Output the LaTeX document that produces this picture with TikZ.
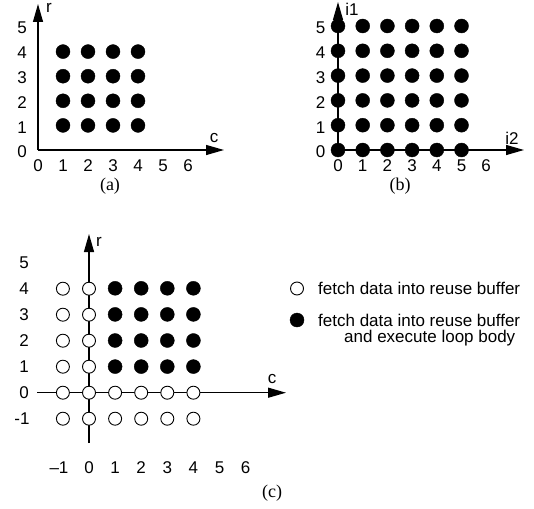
\documentclass[tikz,border=0pt]{standalone}
\usepackage{fontspec}
\setmainfont{Liberation Serif}
\newfontfamily\helv{Liberation Sans}
\usetikzlibrary{arrows.meta}
\tikzset{
  lbl/.style={font=\helv\fontsize{17}{19}\selectfont, inner sep=0pt},
  captxt/.style={font=\fontsize{18}{20}\selectfont, inner sep=0pt},
  fdot/.style={circle, fill=black, draw=black, minimum size=14pt, inner sep=0pt},
  odot/.style={circle, fill=white, draw=black, line width=0.9pt, minimum size=13pt, inner sep=0pt},
  axis/.style={line width=1.3pt, -{Triangle[length=18pt,width=10pt]}},
}
\begin{document}
\begin{tikzpicture}[x=1pt,y=-1pt]
\useasboundingbox (0,0) rectangle (534,508);
% ---------- panel (a)
\coordinate (aO) at (38,150);
\coordinate (aY) at (38,4);
\coordinate (aX) at (224,150);
\draw[axis] (aO) -- (aY);
\draw[axis] (aO) -- (aX);
\node[lbl] (ar) at (49,8) {r};
\node[lbl] (ac) at (214,138) {c};
\foreach \i in {0,...,6} \node[lbl] (ax\i) at (38+25*\i,166) {\i};
\foreach \j in {0,...,5} \node[lbl] (ay\j) at (22,152-24.8*\j) {\j};
\foreach \i in {1,...,4} \foreach \j in {1,...,4}
  \node[fdot] (a-\i-\j) at (38+25*\i,150-24.6*\j) {};
\node[captxt] (capa) at (110,186) {(a)};
% ---------- panel (b)
\coordinate (bO) at (338,150);
\coordinate (bY) at (338,2);
\coordinate (bX) at (524,150);
\draw[axis] (bO) -- (bY);
\draw[axis] (bO) -- (bX);
\node[lbl] (bi1) at (352,9) {i1};
\node[lbl] (bi2) at (512,138) {i2};
\foreach \i in {0,...,6} \node[lbl] (bx\i) at (338+24.7*\i,166) {\i};
\foreach \j in {0,...,5} \node[lbl] (by\j) at (320.5,152-24.8*\j) {\j};
\foreach \i in {0,...,5} \foreach \j in {0,...,5}
  \node[fdot] (b-\i-\j) at (338+24.7*\i,150-24.8*\j) {};
\node[captxt] (capb) at (400,186) {(b)};
% ---------- panel (c)
\coordinate (cO) at (89,392.7);
\coordinate (cY) at (89,234);
\coordinate (cYb) at (89,443);
\coordinate (cXl) at (37,392.7);
\coordinate (cX) at (286,392.7);
\draw[axis] (cYb) -- (cY);
\draw[axis] (cXl) -- (cX);
\node[lbl] (cr) at (99,242) {r};
\node[lbl] (cc) at (272,379) {c};
\node[lbl] (cxm) at (59,468) {\textendash1};
\foreach \i in {0,...,6} \node[lbl] (cx\i) at (89+26.1*\i,468) {\i};
\node[lbl] (cym) at (22,419) {-1};
\foreach \j in {0,...,5} \node[lbl] (cy\j) at (24,393-26*\j) {\j};
\foreach \i in {-1,...,4} \foreach \j in {-1,0} \node[odot] (c-\i-\j) at (89+26.1*\i,392.7-26*\j) {};
\foreach \i in {-1,0} \foreach \j in {1,...,4} \node[odot] (c-\i-\j) at (89+26.1*\i,392.7-26*\j) {};
\foreach \i in {1,...,4} \foreach \j in {1,...,4} \node[fdot] (c-\i-\j) at (89+26.1*\i,392.7-26.1*\j) {};
\node[captxt] (capc) at (272,493) {(c)};
% ---------- legend
\node[odot] (lo) at (297,288.5) {};
\node[lbl, anchor=west] (lt1) at (318,288.5) {fetch data into reuse buffer};
\node[fdot] (lf) at (297,320) {};
\node[lbl, anchor=west] (lt2) at (318,320) {fetch data into reuse buffer};
\node[lbl, anchor=west] (lt3) at (344,338) {and execute loop body};
\end{tikzpicture}
\end{document}
